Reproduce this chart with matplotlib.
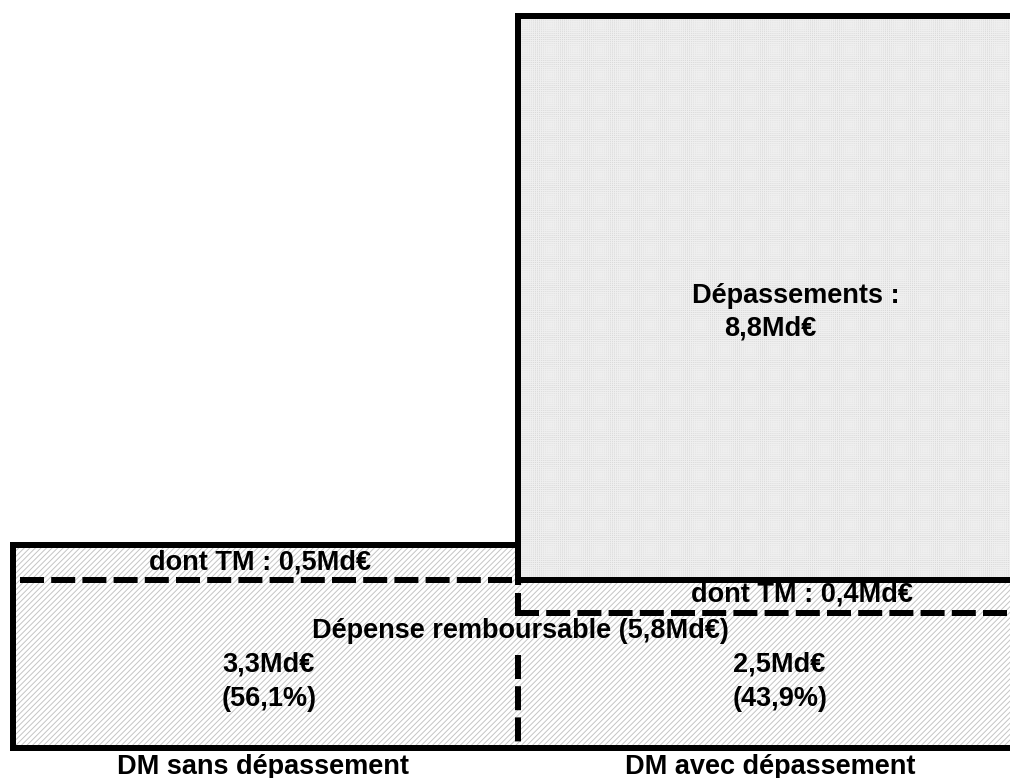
import matplotlib
matplotlib.use("Agg")
import matplotlib.pyplot as plt
from matplotlib.patches import Rectangle

# ---- data ----
categories = ["DM sans dépassement", "DM avec dépassement"]
montants = [3.3, 2.5]          # Md€
parts = [56.1, 43.9]           # %
ticket_moderateur = [0.5, 0.4] # Md€
depassements = 8.8             # Md€
depense_remboursable = 5.8     # Md€


def fr(v, fmt="{:.1f}"):
    return fmt.format(v).replace(".", ",")


# ---- layout (pixel frame) ----
W, H = 1010, 778
x_left, x_mid, x_right = 13, 518, 1012
y_top_right, y_top_left, y_tm, y_tm_right, y_bottom = 16, 545, 580, 613, 748
LW = 6 * 72 / 100
DASH = (0, (4.0, 1.2))
DIAG = "#c4c4c4"

plt.rcParams["font.family"] = ["Liberation Sans", "DejaVu Sans"]
plt.rcParams["hatch.linewidth"] = 0.7

fig = plt.figure(figsize=(W / 100, H / 100), dpi=100)
ax = fig.add_axes([0, 0, 1, 1])
ax.set_xlim(0, W)
ax.set_ylim(H, 0)
ax.axis("off")

# fills
ax.add_patch(Rectangle((x_left, y_top_left), x_mid - x_left, y_bottom - y_top_left,
                       facecolor="white", edgecolor=DIAG, hatch="//////", lw=0))
ax.add_patch(Rectangle((x_mid, y_tm), x_right - x_mid, y_bottom - y_tm,
                       facecolor="white", edgecolor=DIAG, hatch="//////", lw=0))
ax.add_patch(Rectangle((x_mid, y_top_right), x_right - x_mid, y_tm - y_top_right,
                       facecolor="#d9d9d9", edgecolor="#efefef", hatch="++++++++", lw=0))

k = dict(color="black", lw=LW, solid_capstyle="projecting")
# right box
ax.plot([x_mid, x_right], [y_top_right, y_top_right], **k)
ax.plot([x_mid, x_mid], [y_top_right, 585], color="black", lw=LW, solid_capstyle="butt")
ax.plot([x_mid, x_right], [y_tm, y_tm], color="black", lw=LW, solid_capstyle="butt")
# left box
ax.plot([x_left, x_mid], [y_top_left, y_top_left], **k)
ax.plot([x_left, x_left], [y_top_left, y_bottom], **k)
ax.plot([x_left, x_right], [y_bottom, y_bottom], **k)
# dashed lines
ax.plot([20, x_mid], [y_tm, y_tm], color="black", lw=LW, linestyle=DASH)
ax.plot([x_mid, x_mid], [593, y_tm_right + 3], color="black", lw=LW, solid_capstyle="butt")
ax.plot([x_mid - 3, x_right], [y_tm_right, y_tm_right], color="black", lw=LW, linestyle=DASH)
ax.plot([x_mid, x_mid], [655, 745], color="black", lw=LW, linestyle=DASH)

fs = 19.5
tk = dict(fontsize=fs, fontweight="bold", color="black", va="center")

ax.text(692, 296, "Dépassements :", ha="left", **tk)
ax.text(724, 328, f"{fr(depassements)}Md€", ha="left", **tk)

ax.text(260, 562, f"dont TM : {fr(ticket_moderateur[0])}Md€", ha="center", **tk)
ax.text(802, 595, f"dont TM : {fr(ticket_moderateur[1])}Md€", ha="center", **tk)
ax.text(520, 631, f"Dépense remboursable ({fr(depense_remboursable)}Md€)", ha="center", **tk)

for xs, m, p in zip([222, 733], montants, parts):
    ax.text(xs, 664, f"{fr(m)}Md€", ha="left", **tk)
    ax.text(xs, 699, f"({fr(p)}%)", ha="left", **tk)

for xc, c in zip([263, 770], categories):
    ax.text(xc, 767, c, ha="center", **tk)

fig.savefig("out.png", dpi=100)
